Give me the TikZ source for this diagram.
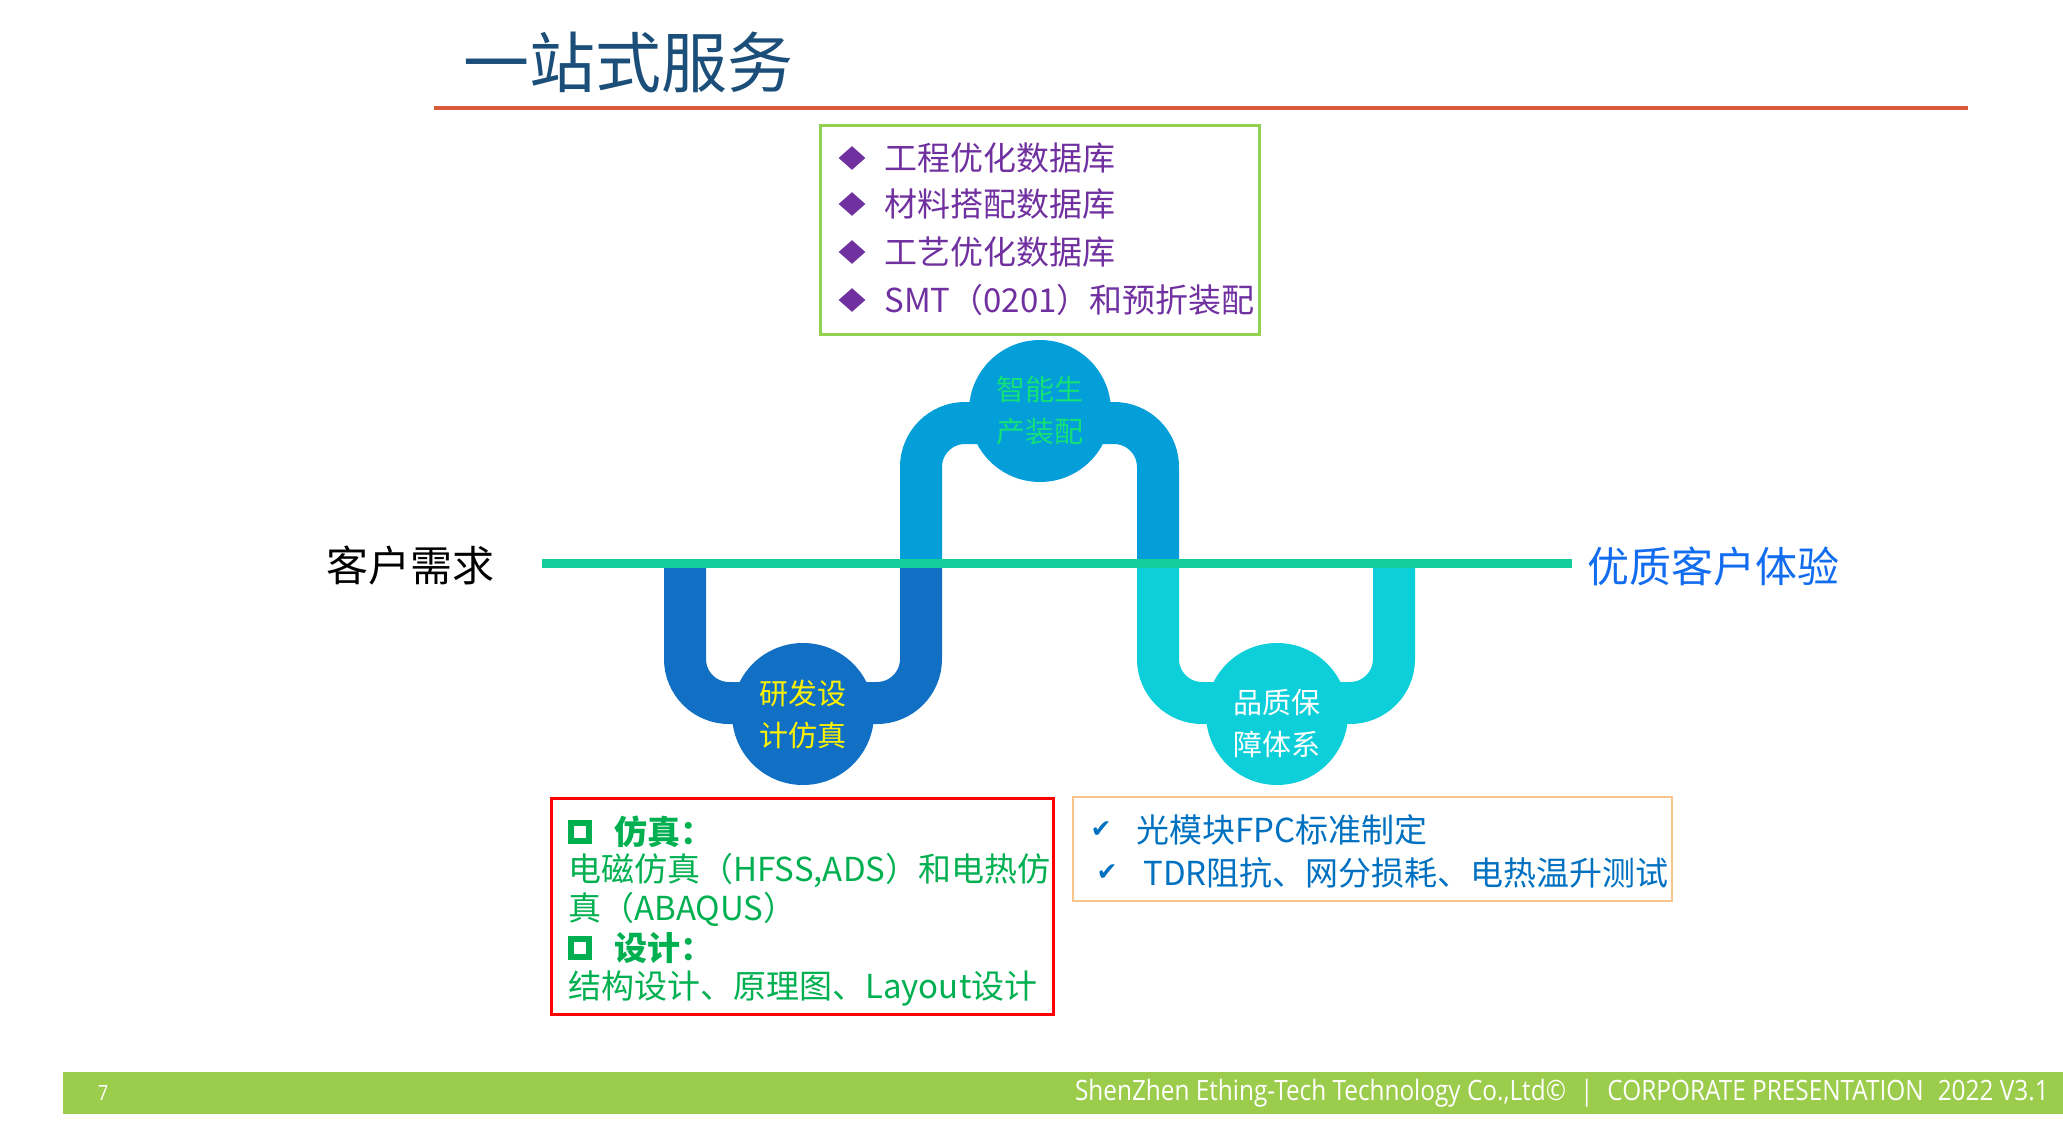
\documentclass[tikz,border=0pt]{standalone}
\usepackage{fontspec}
\setmainfont{Noto Sans CJK SC}
\newfontfamily\symfont{DejaVu Sans}
\newfontfamily\footfont{Open Sans}[FakeStretch=0.87]
\usetikzlibrary{shapes.geometric}

\definecolor{titleblue}{RGB}{27,79,122}
\definecolor{rulered}{RGB}{218,90,60}
\definecolor{boxgreen}{RGB}{146,208,80}
\definecolor{itempurple}{RGB}{112,48,160}
\definecolor{linegreen}{RGB}{19,206,154}
\definecolor{rdblue}{RGB}{17,112,196}
\definecolor{mfgblue}{RGB}{4,158,216}
\definecolor{qacyan}{RGB}{13,207,217}
\definecolor{mfgtext}{RGB}{20,225,120}
\definecolor{uxblue}{RGB}{17,108,240}
\definecolor{simgreen}{RGB}{0,176,80}
\definecolor{boxorange}{RGB}{250,197,138}
\definecolor{testblue}{RGB}{0,112,192}
\definecolor{footgreen}{RGB}{155,204,76}

\begin{document}
\begin{tikzpicture}[x=0.5pt,y=-0.5pt,
  boxtext/.style={anchor=west,inner sep=0pt,font=\fontsize{16.5}{20}\selectfont},
  boxbold/.style={anchor=west,inner sep=0pt,font=\fontsize{16.5}{20}\selectfont\bfseries},
  bulletsq/.style={draw=simgreen,line width=3pt,minimum size=9pt,inner sep=0pt},
  checkmark/.style={inner sep=0pt,text=testblue,font=\symfont\fontsize{12.5}{15}\selectfont},
  pipe/.style={line width=21pt,rounded corners=22pt},
  stage/.style={circle,minimum size=71pt,inner sep=0pt},
  stagetext/.style={align=center,inner sep=0pt,font=\fontsize{14.5}{21}\selectfont}]

  \useasboundingbox (0,0) rectangle (2063,1124);

  \node[anchor=west,inner sep=0pt,text=titleblue,font=\fontsize{33}{40}\selectfont] (title) at (463,62) {一站式服务};
  \draw[rulered,line width=2pt] (434,108) -- (1968,108);

  % database box
  \draw[boxgreen,line width=1.5pt] (820,125) rectangle (1259,334);
  \foreach \y/\t [count=\i] in {158/工程优化数据库,204/材料搭配数据库,252/工艺优化数据库,300/SMT（0201）和预折装配}{
    \node[diamond,fill=itempurple,minimum width=13.5pt,minimum height=12pt,inner sep=0pt] (dia\i) at (852,\y) {};
    \node[boxtext,text=itempurple] (db\i) at (884,\y) {\t};
  }

  % pipes
  \draw[pipe,rdblue] (685,563) -- (685,703) -- (921,703) -- (921,563);
  \draw[pipe,mfgblue] (921,563) -- (921,423) -- (1158,423) -- (1158,563);
  \draw[pipe,qacyan] (1158,563) -- (1158,703) -- (1394,703) -- (1394,563);

  \node[stage,fill=rdblue] (rd) at (803,714) {};
  \node[stage,fill=mfgblue] (mfg) at (1040,411) {};
  \node[stage,fill=qacyan] (qa) at (1277,714) {};
  \node[stagetext,text=yellow] (rdtext) at (rd) {研发设\\计仿真};
  \node[stagetext,text=mfgtext] (mfgtext) at (mfg) {智能生\\产装配};
  \node[stagetext,text=white] (qatext) at ([yshift=-5pt]qa) {品质保\\障体系};

  \node[inner sep=0pt,font=\fontsize{21}{25}\selectfont] (need) at (410,565) {客户需求};
  \node[inner sep=0pt,text=uxblue,font=\fontsize{21}{25}\selectfont] (ux) at (1713,566) {优质客户体验};
  \coordinate (linestart) at (542,563);
  \coordinate (lineend) at (1572,563);
  \draw[linegreen,line width=4.5pt] (linestart) -- (lineend);

  % design box
  \draw[red,line width=1.5pt] (551,798) rectangle (1053,1014);
  \node[bulletsq] (sq1) at (580,832) {};
  \node[boxbold,text=simgreen] (sim) at (614,832) {仿真：};
  \node[boxtext,text=simgreen] (sim1) at (568,871) {电磁仿真（HFSS,ADS）和电热仿};
  \node[boxtext,text=simgreen] (sim2) at (568,909) {真（ABAQUS）};
  \node[bulletsq] (sq2) at (580,948) {};
  \node[boxbold,text=simgreen] (des) at (614,948) {设计：};
  \node[boxtext,text=simgreen] (des1) at (568,988) {结构设计、原理图、Layout设计};

  % test box
  \draw[boxorange,line width=1pt] (1073,797) rectangle (1672,901);
  \node[checkmark] (chk1) at (1101,830) {✔};
  \node[boxtext,text=testblue] (std) at (1136,830) {光模块FPC标准制定};
  \node[checkmark] (chk2) at (1107,873) {✔};
  \node[boxtext,text=testblue] (tdr) at (1143,873) {TDR阻抗、网分损耗、电热温升测试};

  % footer
  \fill[footgreen] (63,1072) rectangle (2063,1114);
  \node[inner sep=0pt,text=white,font=\footfont\fontsize{10.5}{12}\selectfont] (page) at (103,1093) {7};
  \node[anchor=east,inner sep=0pt,text=white,font=\footfont\fontsize{14}{16}\selectfont] (corp) at (2049,1093) {ShenZhen Ething-Tech Technology Co.,Ltd©\enspace|\enspace CORPORATE PRESENTATION\enspace 2022 V3.1};
\end{tikzpicture}
\end{document}
